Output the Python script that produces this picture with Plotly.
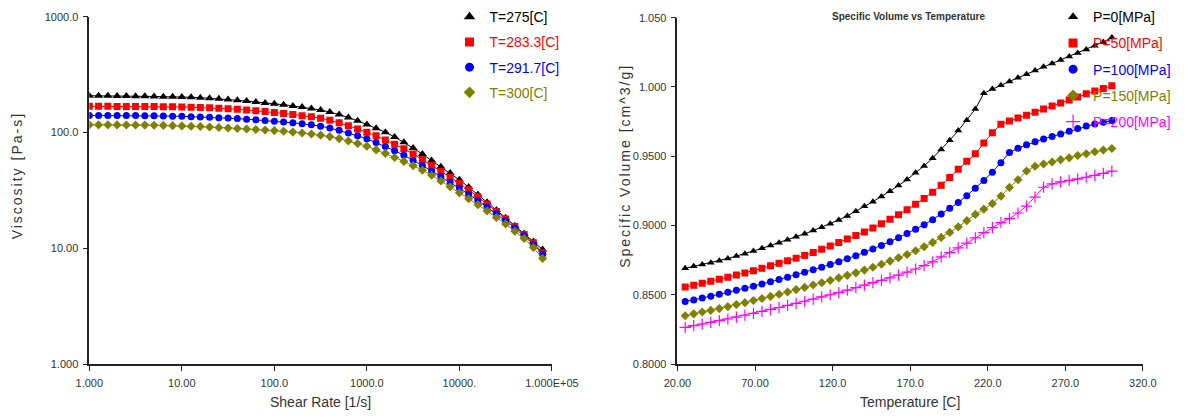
import plotly.graph_objects as go

# ---------------- Data: left chart (viscosity vs shear rate) ----------------
shear_rate = [1.0, 1.259, 1.585, 1.995, 2.512, 3.162, 3.981, 5.012, 6.310, 7.943,
              10.0, 12.59, 15.85, 19.95, 25.12, 31.62, 39.81, 50.12, 63.10, 79.43,
              100.0, 125.9, 158.5, 199.5, 251.2, 316.2, 398.1, 501.2, 631.0, 794.3,
              1000.0, 1259.0, 1585.0, 1995.0, 2512.0, 3162.0, 3981.0, 5012.0, 6310.0, 7943.0,
              10000.0, 12590.0, 15850.0, 19950.0, 25120.0, 31620.0, 39810.0, 50120.0, 63100.0, 79430.0]

visc_T275 = [208, 208, 208, 207, 207, 206, 206, 205, 204, 204,
             203, 202, 200, 198, 196, 193, 190, 187, 184, 180,
             177, 174, 170, 166, 161.5, 156.5, 150.5, 143, 135, 126.5,
             117.5, 109.1, 100.7, 91.6, 82.4, 73.5, 65.2, 57.5, 50.8, 44.7,
             39.1, 33.9, 29.2, 25.1, 21.5, 18.4, 15.7, 13.5, 11.5, 9.8]
visc_T283 = [168.5, 168.5, 168.4, 168.3, 168.2, 168.0, 167.8, 167.5, 167.1, 166.7,
             166.2, 165.5, 164.6, 163.5, 162.2, 160.6, 158.8, 156.8, 154.6, 152.0,
             149.2, 146.3, 143.2, 140.0, 136.8, 133.0, 127.6, 121.5, 114.6, 107.5,
             100.7, 93.8, 86.5, 79.5, 72.6, 65.5, 58.6, 52.2, 46.4, 41.2,
             36.5, 32.1, 27.9, 24.2, 20.9, 18.0, 15.5, 13.2, 11.2, 9.2]
visc_T291 = [140.5, 140.5, 140.5, 140.4, 140.3, 140.1, 139.8, 139.5, 139.1, 138.6,
             138.0, 137.3, 136.5, 135.6, 134.5, 133.3, 132.0, 130.5, 128.9, 127.2,
             125.4, 123.4, 121.4, 119.2, 116.7, 113.5, 109.5, 104.5, 99.3, 94.0,
             88.4, 82.0, 75.8, 69.8, 63.8, 57.8, 52.0, 46.6, 41.7, 37.2,
             33.2, 29.4, 26.0, 22.8, 20.0, 17.3, 15.0, 12.9, 10.9, 8.9]
visc_T300 = [116.6, 116.6, 116.6, 116.5, 116.4, 116.2, 116.0, 115.7, 115.3, 114.8,
             114.2, 113.5, 112.7, 111.8, 110.8, 109.7, 108.5, 107.4, 106.3, 105.2,
             104.0, 102.6, 101.0, 99.3, 97.3, 95.0, 92.3, 88.7, 84.6, 80.4,
             76.3, 71.0, 66.2, 61.0, 56.4, 51.9, 47.4, 42.8, 38.3, 34.1,
             30.2, 26.9, 23.9, 21.1, 18.5, 16.3, 14.1, 12.2, 10.2, 8.2]

visc_names = ["T=275[C]", "T=283.3[C]", "T=291.7[C]", "T=300[C]"]

x_left_tickvals = [1, 10, 100, 1000, 10000, 100000]
x_left_ticktext = ["1.000", "10.00", "100.0", "1000.0", "10000.", "1.000E+05"]
y_left_tickvals = [1, 10, 100, 1000]
y_left_ticktext = ["1.000", "10.00", "100.0", "1000.0"]

# ---------------- Data: right chart (specific volume vs temperature) ----------------
temperature = [25.0, 30.5, 36.0, 41.5, 47.0, 52.5, 58.0, 63.5, 69.0, 74.5,
               80.0, 85.5, 91.0, 96.5, 102.0, 107.5, 113.0, 118.5, 124.0, 129.5,
               135.0, 140.5, 146.0, 151.5, 157.0, 162.5, 168.0, 173.5, 179.0, 184.5,
               190.0, 195.5, 201.0, 206.5, 212.0, 217.5, 223.0, 228.5, 234.0, 239.5,
               245.0, 250.5, 256.0, 261.5, 267.0, 272.5, 278.0, 283.5, 289.0, 294.5, 300.0]

sv_P0 = [0.8691, 0.8705, 0.8718, 0.8731, 0.8746, 0.8762, 0.8779, 0.8796, 0.8815, 0.8835,
         0.8856, 0.8876, 0.8897, 0.8918, 0.8940, 0.8963, 0.8987, 0.9013, 0.9040, 0.9069,
         0.9102, 0.9138, 0.9172, 0.9210, 0.9247, 0.9288, 0.9332, 0.9380, 0.9430, 0.9486,
         0.9548, 0.9615, 0.9685, 0.9760, 0.9840, 0.9955, 0.9985, 1.0012, 1.0040, 1.0066,
         1.0092, 1.0118, 1.0145, 1.0170, 1.0195, 1.0220, 1.0245, 1.0270, 1.0297, 1.0325, 1.0356]
sv_P50 = [0.8556, 0.8569, 0.8583, 0.8597, 0.8612, 0.8627, 0.8642, 0.8657, 0.8673, 0.8691,
          0.8709, 0.8727, 0.8745, 0.8764, 0.8784, 0.8805, 0.8828, 0.8852, 0.8877, 0.8902,
          0.8927, 0.8953, 0.8982, 0.9013, 0.9045, 0.9078, 0.9113, 0.9153, 0.9195, 0.9240,
          0.9290, 0.9346, 0.9405, 0.9463, 0.9517, 0.9595, 0.9670, 0.9731, 0.9755, 0.9775,
          0.9796, 0.9818, 0.9840, 0.9862, 0.9884, 0.9906, 0.9928, 0.9950, 0.9970, 0.9988, 1.0008]
sv_P100 = [0.8451, 0.8463, 0.8476, 0.8489, 0.8503, 0.8518, 0.8532, 0.8547, 0.8562, 0.8578,
           0.8593, 0.8610, 0.8627, 0.8644, 0.8662, 0.8680, 0.8699, 0.8719, 0.8739, 0.8759,
           0.8782, 0.8806, 0.8831, 0.8856, 0.8883, 0.8912, 0.8942, 0.8973, 0.9006, 0.9042,
           0.9082, 0.9124, 0.9165, 0.9215, 0.9268, 0.9325, 0.9385, 0.9452, 0.9526, 0.9558,
           0.9582, 0.9605, 0.9625, 0.9642, 0.9660, 0.9680, 0.9700, 0.9718, 0.9732, 0.9745, 0.9757]
sv_P150 = [0.8348, 0.8362, 0.8375, 0.8387, 0.8400, 0.8414, 0.8429, 0.8443, 0.8458, 0.8473,
           0.8488, 0.8504, 0.8520, 0.8537, 0.8553, 0.8570, 0.8587, 0.8604, 0.8622, 0.8640,
           0.8658, 0.8678, 0.8698, 0.8720, 0.8743, 0.8767, 0.8791, 0.8818, 0.8846, 0.8878,
           0.8914, 0.8950, 0.8990, 0.9035, 0.9080, 0.9118, 0.9158, 0.9212, 0.9275, 0.9330,
           0.9393, 0.9428, 0.9444, 0.9458, 0.9475, 0.9488, 0.9505, 0.9518, 0.9532, 0.9545, 0.9556]
sv_P200 = [0.8264, 0.8277, 0.8289, 0.8301, 0.8313, 0.8325, 0.8339, 0.8352, 0.8365, 0.8380,
           0.8394, 0.8408, 0.8423, 0.8438, 0.8453, 0.8469, 0.8485, 0.8500, 0.8516, 0.8533,
           0.8551, 0.8569, 0.8587, 0.8604, 0.8622, 0.8641, 0.8663, 0.8686, 0.8710, 0.8738,
           0.8773, 0.8805, 0.8838, 0.8873, 0.8910, 0.8948, 0.8985, 0.9020, 0.9050, 0.9090,
           0.9140, 0.9205, 0.9276, 0.9300, 0.9315, 0.9325, 0.9336, 0.9348, 0.9362, 0.9376, 0.9393]

sv_names = ["P=0[MPa]", "P=50[MPa]", "P=100[MPa]", "P=150[MPa]", "P=200[MPa]"]

x_right_tickvals = [20, 70, 120, 170, 220, 270, 320]
x_right_ticktext = ["20.00", "70.00", "120.0", "170.0", "220.0", "270.0", "320.0"]
y_right_tickvals = [0.80, 0.85, 0.90, 0.95, 1.00, 1.05]
y_right_ticktext = ["0.8000", "0.8500", "0.9000", "0.9500", "1.000", "1.050"]

# ---------------- Styles ----------------
FONT = "Liberation Sans, Arial, sans-serif"
W, H = 1195, 418
BLACK, RED, BLUE, OLIVE, MAGENTA = "#000000", "#ff0000", "#0000ff", "#808000", "#ff00ff"

left_styles = [(BLACK, "triangle-up", 8), (RED, "square", 7), (BLUE, "circle", 7), (OLIVE, "diamond", 7)]
right_styles = [(BLACK, "triangle-up", 7), (RED, "square", 7), (BLUE, "circle", 7),
                (OLIVE, "diamond", 7), (MAGENTA, "cross-thin", 8)]

fig = go.Figure()

def marker_for(color, sym, size):
    if sym == "cross-thin":
        return dict(symbol=sym, size=size, color=color, line=dict(color=color, width=1.2))
    return dict(symbol=sym, size=size, color=color, line=dict(width=0))

left_series = [visc_T275, visc_T283, visc_T291, visc_T300]
for name, vals, (color, sym, size) in zip(visc_names, left_series, left_styles):
    fig.add_trace(go.Scatter(x=shear_rate, y=vals, mode="lines+markers",
                             line=dict(color=color, width=1), marker=marker_for(color, sym, size),
                             xaxis="x", yaxis="y", showlegend=False, hoverinfo="skip"))
for name, (color, sym, size) in zip(visc_names, left_styles):
    fig.add_trace(go.Scatter(x=[None], y=[None], mode="markers", marker=marker_for(color, sym, size + 2),
                             name=f"<span style='color:{color}'>{name}</span>",
                             legend="legend", legendgroup=name, xaxis="x", yaxis="y"))

right_series = [sv_P0, sv_P50, sv_P100, sv_P150, sv_P200]
for name, vals, (color, sym, size) in zip(sv_names, right_series, right_styles):
    fig.add_trace(go.Scatter(x=temperature, y=vals, mode="lines+markers",
                             line=dict(color=color, width=1), marker=marker_for(color, sym, size),
                             xaxis="x2", yaxis="y2", showlegend=False, hoverinfo="skip"))
for name, (color, sym, size) in zip(sv_names, right_styles):
    fig.add_trace(go.Scatter(x=[None], y=[None], mode="markers", marker=marker_for(color, sym, size + 2),
                             name=f"<span style='color:{color}'>{name}</span>",
                             legend="legend2", legendgroup="r" + name, xaxis="x2", yaxis="y2"))

axis_common = dict(showline=True, linecolor="#222222", linewidth=1.5, ticks="outside", ticklen=5,
                   tickwidth=1.2, tickcolor="#222222", showgrid=False, zeroline=False,
                   tickfont=dict(family=FONT, size=11, color="#333333"), mirror=False)

fig.update_layout(
    width=W, height=H, margin=dict(l=0, r=0, t=0, b=0),
    paper_bgcolor="white", plot_bgcolor="white",
    font=dict(family=FONT, color="#333333"),
    xaxis=dict(type="log", range=[0, 5], domain=[78 / W, 557 / W], anchor="y", ticklabelstandoff=3,
               tickvals=x_left_tickvals, ticktext=x_left_ticktext, **axis_common),
    yaxis=dict(type="log", range=[0, 3], domain=[(H - 369) / H, (H - 11) / H], anchor="x",
               ticklabelstandoff=2, tickvals=y_left_tickvals, ticktext=y_left_ticktext, **axis_common),
    xaxis2=dict(range=[20, 320], domain=[687 / W, 1169 / W], anchor="y2", ticklabelstandoff=3,
                tickvals=x_right_tickvals, ticktext=x_right_ticktext, **axis_common),
    yaxis2=dict(range=[0.8, 1.05], domain=[(H - 368.6) / H, (H - 12) / H], anchor="x2",
                ticklabelstandoff=2, tickvals=y_right_tickvals, ticktext=y_right_ticktext, **axis_common),
    legend=dict(x=451 / W, y=1 + 5 / H, xanchor="left", yanchor="top", bgcolor="rgba(0,0,0,0)",
                font=dict(family=FONT, size=14), traceorder="grouped", tracegroupgap=4,
                itemsizing="trace", borderwidth=0),
    legend2=dict(x=1076 / W, y=1 + 5 / H, xanchor="left", yanchor="top", bgcolor="rgba(0,0,0,0)",
                 font=dict(family=FONT, size=14), traceorder="grouped", tracegroupgap=5,
                 itemsizing="trace", borderwidth=0),
    annotations=[
        dict(text="Shear Rate [1/s]", x=(78 + 557) / 2 / W, y=(H - 408) / H, xref="paper", yref="paper",
             showarrow=False, xanchor="center", yanchor="middle",
             font=dict(family=FONT, size=14, color="#333333")),
        dict(text="<span style='letter-spacing:2px'>Viscosity [Pa-s]</span>", x=18 / W, y=(H - 175) / H,
             xref="paper", yref="paper", showarrow=False, textangle=-90, xanchor="center", yanchor="middle",
             xshift=-14, font=dict(family=FONT, size=14, color="#333333")),
        dict(text="Temperature [C]", x=(687 + 1169) / 2 / W, y=(H - 408) / H, xref="paper", yref="paper",
             showarrow=False, xanchor="center", yanchor="middle",
             font=dict(family=FONT, size=14, color="#333333")),
        dict(text="<span style='letter-spacing:2px'>Specific Volume [cm^3/g]</span>", x=626 / W,
             y=(H - 165) / H, xref="paper", yref="paper", showarrow=False, textangle=-90,
             xanchor="center", yanchor="middle", xshift=7, font=dict(family=FONT, size=14, color="#333333")),
        dict(text="<b>Specific Volume vs Temperature</b>", x=926 / W, y=(H - 11) / H, xref="paper",
             yref="paper", showarrow=False, xanchor="center", yanchor="middle",
             font=dict(family=FONT, size=10, color="#333333")),
    ],
)

fig.write_html("out.html")
